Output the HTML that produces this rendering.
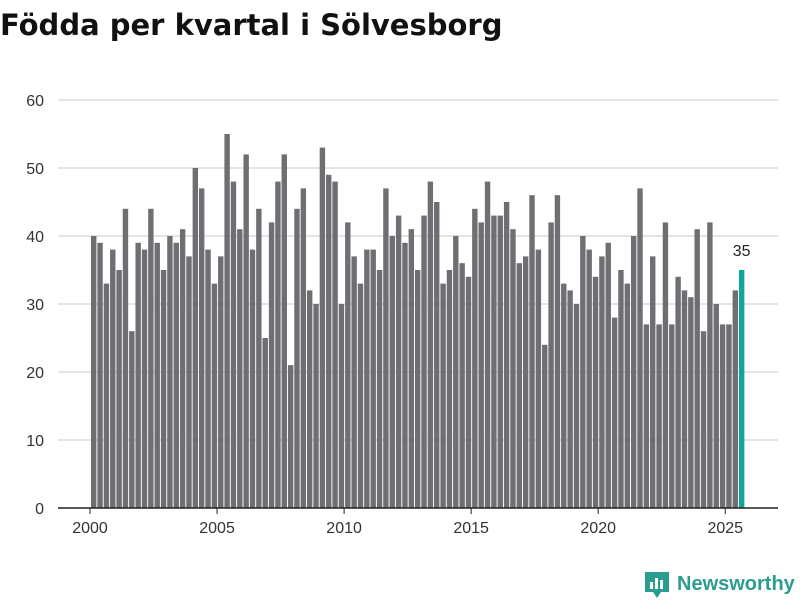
<!DOCTYPE html>
<html><head><meta charset="utf-8"><style>
body{margin:0;background:#fff;width:800px;height:600px;overflow:hidden;font-family:"Liberation Sans",sans-serif}
</style></head><body>
<svg width="800" height="600">
<text x="0" y="35" font-size="29" font-weight="bold" fill="#111" font-family="DejaVu Sans, sans-serif">Födda per kvartal i Sölvesborg</text>
<g id="grid"></g><g id="bars"></g><g id="xaxis"></g>
<g>
<path d="M645 572 h24 v20 h-8 l-4 6 l-4 -6 h-8 z" fill="#2a9d8f"/>
<rect x="650" y="582" width="3" height="7" fill="#fff"/><rect x="655" y="578" width="3" height="11" fill="#fff"/><rect x="660" y="580" width="3" height="9" fill="#fff"/>
<text x="677" y="590" font-size="20" font-weight="bold" fill="#2a9d8f">Newsworthy</text></g>
</svg>
<script>
const years=[2000,2005,2010,2015,2020,2025];
const yTicks=[0,10,20,30,40,50,60];
const values=[40,39,33,38,35,44,26,39,38,44,39,35,40,39,41,37,50,47,38,33,37,55,48,41,52,38,44,25,42,48,52,21,44,47,32,30,53,49,48,30,42,37,33,38,38,35,47,40,43,39,41,35,43,48,45,33,35,40,36,34,44,42,48,43,43,45,41,36,37,46,38,24,42,46,33,32,30,40,38,34,37,39,28,35,33,40,47,27,37,27,42,27,34,32,31,41,26,42,30,27,27,32,35];
const startYear=2000;
const NS="http://www.w3.org/2000/svg";
const x=t=>90+(t-2000)*25.41;
const y=v=>508-v*6.8;
function mk(tag,attrs,parent){const e=document.createElementNS(NS,tag);for(const k in attrs)e.setAttribute(k,attrs[k]);parent.appendChild(e);return e;}
const grid=document.getElementById('grid');
yTicks.forEach(v=>{
 if(v>0){const l=mk('line',{x1:58,x2:778,y1:y(v),y2:y(v),stroke:'#dcdcdc','stroke-width':1.5},grid);
 
 }
 const t=mk('text',{x:44,y:y(v)+6,'text-anchor':'end','font-size':16,fill:'#333'},grid);t.textContent=v;
 
 
});
const bars=document.getElementById('bars');
values.forEach((v,i)=>{
 const last=i===values.length-1;
 const r=mk('rect',{x:x(startYear+i/4)+1,y:y(v),width:5.4,height:y(0)-y(v),fill:last?'#0fa59a':'#6e6e73'},bars);
 
 
 if(last){const t=mk('text',{x:x(startYear+i/4)+3.7,y:y(v)-14,'text-anchor':'middle','font-size':16,fill:'#222'},bars);t.textContent=v;
 
 }
});
const xa=document.getElementById('xaxis');
const ax=mk('line',{x1:58,x2:778,y1:508,y2:508,stroke:'#222','stroke-width':1.5},xa);


years.forEach(yr=>{
 mk('line',{x1:x(yr),x2:x(yr),y1:508,y2:514,stroke:'#222'},xa);
 const t=mk('text',{x:x(yr),y:533,'text-anchor':'middle','font-size':16,fill:'#333'},xa);t.textContent=yr;
 
 
});
</script>
</body></html>
